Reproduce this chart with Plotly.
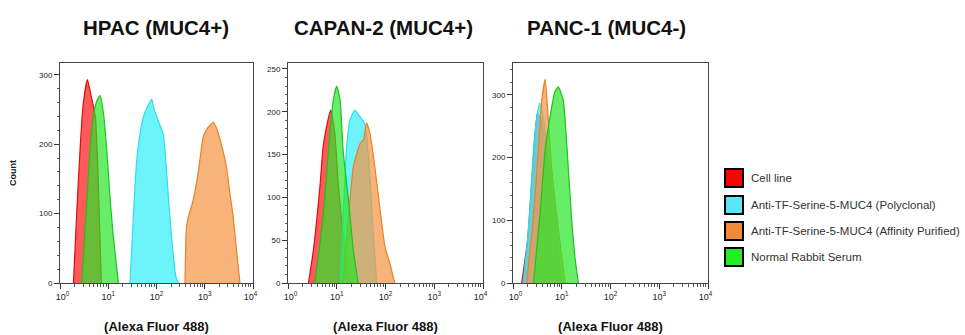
import plotly.graph_objects as go

# ---------------- data (fluorescence intensity, cell count) ----------------
panels = ["HPAC (MUC4+)", "CAPAN-2 (MUC4+)", "PANC-1 (MUC4-)"]
series_names = ["Cell line", "Anti-TF-Serine-5-MUC4 (Polyclonal)",
                "Anti-TF-Serine-5-MUC4 (Affinity Purified)", "Normal Rabbit Serum"]

# HPAC
hpac_cell_x = [1.9, 2.2, 2.6, 3.0, 3.7, 4.4, 5.4, 6.2, 7.2]
hpac_cell_y = [0, 95, 191, 255, 293, 270, 240, 150, 0]
hpac_poly_x = [28.2, 33.1, 38.9, 45.7, 53.7, 66.1, 79.4, 89.1, 100, 117, 138, 158, 178, 209, 251, 282]
hpac_poly_y = [0, 95, 177, 215, 240, 255, 265, 250, 241, 228, 215, 170, 120, 60, 10, 0]
hpac_aff_x = [389, 417, 457, 575, 741, 933, 1122, 1318, 1514, 1778, 2089, 2818, 3311, 3890, 4571, 5370]
hpac_aff_y = [0, 80, 95, 119, 162, 211, 222, 228, 232, 222, 206, 167, 130, 95, 46, 0]
hpac_nrs_x = [2.82, 3.55, 4.17, 4.90, 5.75, 6.76, 7.94, 9.33, 10.7, 12.6, 16.2]
hpac_nrs_y = [0, 110, 191, 240, 262, 270, 245, 191, 130, 70, 0]

# CAPAN-2
capan_cell_x = [2.63, 3.31, 4.57, 5.25, 6.46, 7.50, 9.12, 10.7, 13.5, 18.6]
capan_cell_y = [0, 38, 116, 159, 188, 202, 175, 117, 58, 0]
capan_poly_x = [11.7, 13.5, 15.8, 18.6, 23.4, 30.2, 38.0, 45.7, 56.2, 66.1]
capan_poly_y = [0, 77, 155, 190, 202, 194, 185, 140, 58, 0]
capan_aff_x = [13.5, 17.4, 21.9, 30.2, 35.5, 40.7, 47.9, 60.3, 77.6, 97.7, 123, 155]
capan_aff_y = [0, 77, 136, 163, 168, 187, 175, 136, 85, 42, 23, 0]
capan_nrs_x = [3.55, 5.25, 7.24, 8.51, 10.0, 11.7, 13.5, 17.4, 21.9, 27.5]
capan_nrs_y = [0, 77, 175, 214, 230, 214, 155, 97, 38, 0]

# PANC-1
panc_cell_x = [1.51, 2.0, 2.63, 3.16, 3.80, 4.57, 6.03, 7.94, 10.0]
panc_cell_y = [0, 70, 200, 270, 260, 220, 150, 70, 0]
panc_poly_x = [1.62, 2.04, 2.63, 3.09, 3.55, 4.17, 4.90, 6.17, 7.94, 10.0]
panc_poly_y = [0, 79, 212, 265, 287, 265, 223, 159, 79, 0]
panc_aff_x = [1.91, 2.63, 3.31, 3.89, 4.57, 5.25, 6.17, 7.94, 10.0, 11.7]
panc_aff_y = [0, 106, 212, 292, 325, 265, 185, 106, 42, 0]
panc_nrs_x = [2.63, 3.55, 4.57, 5.75, 7.24, 8.51, 10.7, 12.9, 15.8, 18.6, 21.9]
panc_nrs_y = [0, 106, 212, 265, 305, 313, 292, 212, 106, 42, 0]

y_max = [317, 257, 351]
y_major = [100, 50, 100]
y_minor = [20, 10, 20]

x_tickvals = [1, 10, 100, 1000, 10000]
x_ticktext = ["\u00a0\u00a010<sup>0</sup>", "10<sup>1</sup>", "10<sup>2</sup>",
              "10<sup>3</sup>", "10<sup>4</sup>\u00a0\u00a0"]

fill_colors = ["rgba(255,20,20,0.70)", "rgba(60,240,248,0.75)",
               "rgba(244,150,70,0.72)", "rgba(40,230,40,0.70)"]
line_colors = ["#d81010", "#30dcea", "#e88228", "#20c020"]
swatch_colors = ["#ff0000", "#5ae6f5", "#f08a38", "#22ee22"]

data = [
    [(hpac_cell_x, hpac_cell_y), (hpac_poly_x, hpac_poly_y), (hpac_aff_x, hpac_aff_y), (hpac_nrs_x, hpac_nrs_y)],
    [(capan_cell_x, capan_cell_y), (capan_poly_x, capan_poly_y), (capan_aff_x, capan_aff_y), (capan_nrs_x, capan_nrs_y)],
    [(panc_cell_x, panc_cell_y), (panc_poly_x, panc_poly_y), (panc_aff_x, panc_aff_y), (panc_nrs_x, panc_nrs_y)],
]

# ---------------- layout geometry ----------------
W, H = 965, 335
x_dom_px = [(60, 253), (288, 483), (513, 708)]
y_dom = [(335 - 283) / H, (335 - 63) / H]
title_cx = [156, 383, 606]
legend_rows_px = [178, 205, 231, 257]

fig = go.Figure()
axis_font = dict(family="Liberation Sans, Arial, sans-serif", size=9, color="#222")

for p in range(3):
    sfx = "" if p == 0 else str(p + 1)
    for s in range(4):
        xs, ys = data[p][s]
        fig.add_trace(go.Scatter(
            x=xs, y=ys, mode="lines", fill="toself",
            fillcolor=fill_colors[s],
            line=dict(color=line_colors[s], width=1.2, shape="spline", smoothing=0.5),
            xaxis="x" + sfx, yaxis="y" + sfx, showlegend=False, hoverinfo="skip"))
    x0, x1 = x_dom_px[p]
    fig.layout["xaxis" + sfx] = dict(
        domain=[x0 / W, x1 / W], type="log", range=[0, 4], anchor="y" + sfx,
        automargin=False,
        tickvals=x_tickvals, ticktext=x_ticktext, ticks="outside", ticklen=5,
        tickwidth=1, tickcolor="#333", tickfont=axis_font,
        minor=dict(tickvals=[m * 10 ** d for d in range(4) for m in range(2, 10)],
                   ticks="outside", ticklen=2.5, tickcolor="#555", showgrid=False),
        showline=True, linecolor="#444", linewidth=1, mirror=True,
        showgrid=False, zeroline=False,
        title=dict(text="<b>(Alexa Fluor 488)</b>", standoff=21,
                   font=dict(family="Liberation Sans, Arial", size=13, color="#111")))
    fig.layout["yaxis" + sfx] = dict(
        domain=y_dom, range=[0, y_max[p]], anchor="x" + sfx, automargin=False,
        dtick=y_major[p], tick0=0, ticks="outside", ticklen=5, tickwidth=1,
        tickcolor="#333", tickfont=dict(family="Liberation Sans, Arial", size=8, color="#222"),
        minor=dict(dtick=y_minor[p], ticks="outside", ticklen=2.5, tickcolor="#666", showgrid=False),
        showline=True, linecolor="#444", linewidth=1, mirror=True,
        showgrid=False, zeroline=False)
    fig.add_annotation(text="<b>" + panels[p] + "</b>", xref="paper", yref="paper",
                       x=title_cx[p] / W, y=(335 - 28) / H, xanchor="center", yanchor="middle",
                       showarrow=False,
                       font=dict(family="Liberation Sans, Arial", size=20.5, color="#111"))

fig.layout.yaxis.title = dict(text="<b>Count</b>", standoff=20,
                              font=dict(family="Liberation Sans, Arial", size=9, color="#222"))

# legend (swatch boxes + labels)
for s in range(4):
    cy = legend_rows_px[s]
    fig.add_shape(type="rect", xref="paper", yref="paper",
                  x0=725 / W, x1=743 / W, y0=(H - cy - 9) / H, y1=(H - cy + 9) / H,
                  fillcolor=swatch_colors[s], line=dict(color="#000", width=2))
    fig.add_annotation(text=series_names[s], xref="paper", yref="paper",
                       x=749 / W, y=(H - cy) / H, xanchor="left", yanchor="middle",
                       showarrow=False,
                       font=dict(family="Liberation Sans, Arial", size=11.5, color="#333"))

fig.update_layout(
    width=W, height=H, margin=dict(l=0, r=0, t=0, b=0),
    paper_bgcolor="white", plot_bgcolor="white", showlegend=False,
)

fig.write_html("out.html", config={"displayModeBar": False},
               post_script="document.body.style.margin='0';document.body.style.padding='0';")
